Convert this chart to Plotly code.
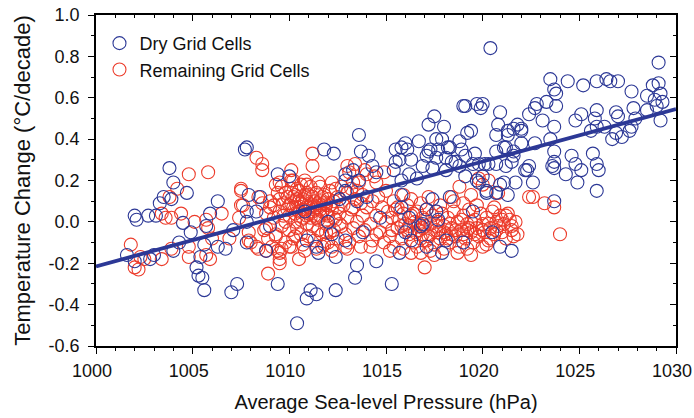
import plotly.graph_objects as go

# ---- Data ----
dry_points = [
    (1003.8,0.26),(1004.0,0.19),(1004.7,0.14),(1003.5,0.12),(1003.3,0.09),(1002.0,0.03),(1002.1,0.01),
    (1002.7,0.03),(1003.1,0.03),(1003.9,0.11),(1004.5,-0.005),(1004.9,-0.05),(1004.3,-0.10),(1006.3,0.10),
    (1005.9,0.04),(1005.7,-0.02),(1005.6,-0.11),(1005.4,-0.17),(1005.2,-0.22),(1005.3,-0.26),(1005.5,-0.27),
    (1005.6,-0.33),(1001.6,-0.16),(1002.0,-0.19),(1002.8,-0.18),(1003.0,-0.16),(1004.0,-0.14),(1006.3,-0.12),
    (1006.7,-0.13),(1007.0,-0.34),(1007.1,-0.04),(1007.3,-0.30),(1009.4,-0.30),(1009.4,0.23),(1007.8,0.36),
    (1007.7,0.35),(1007.9,0.13),(1008.5,0.12),(1007.8,0.05),(1008.3,0.05),(1007.8,0.0),(1008.8,-0.14),
    (1007.8,-0.10),(1010.4,-0.49),(1010.9,-0.37),(1011.1,-0.33),(1011.4,-0.35),(1012.4,-0.33),(1013.4,-0.27),
    (1013.5,-0.21),(1012.4,-0.17),(1011.5,-0.15),(1010.9,-0.09),(1011.8,0.35),(1012.3,0.33),(1013.7,0.34),
    (1014.1,0.32),(1014.3,0.27),(1012.9,0.23),(1013.6,0.20),(1014.5,0.24),(1012.6,0.11),
    (1019.0,0.56),(1019.7,0.57),(1017.5,0.51),(1017.2,0.47),(1018.0,0.46),(1019.2,0.43),(1013.6,0.42),
    (1016.0,0.38),(1016.7,0.39),(1017.6,0.40),(1017.9,0.40),(1018.8,0.39),(1015.5,0.35),(1016.1,0.35),
    (1017.3,0.35),(1017.7,0.35),(1018.3,0.36),(1018.9,0.35),(1019.6,0.33),(1015.7,0.30),(1016.3,0.30),
    (1017.1,0.32),(1017.6,0.31),(1018.1,0.31),(1018.4,0.29),(1018.8,0.27),(1016.9,0.27),(1017.4,0.26),
    (1018.1,0.25),(1019.1,0.22),(1015.4,0.25),(1016.2,0.23),(1016.6,0.21),(1015.8,0.20),(1013.3,0.25),
    (1012.9,0.20),(1012.9,0.15),(1010.0,0.22),(1015.8,0.13),(1015.8,0.07),(1016.2,0.02),(1017.1,0.06),
    (1017.4,0.11),(1017.7,0.01),(1016.8,-0.02),(1016.3,-0.09),(1015.7,-0.15),(1017.1,-0.12),(1017.9,-0.15),
    (1015.3,-0.30),(1011.4,-0.12),(1012.9,-0.09),(1019.7,0.20),(1019.8,0.19),(1020.2,0.15),(1020.7,0.14),
    (1021.1,0.19),(1021.7,0.19),(1021.2,0.36),(1021.6,0.32),(1022.0,0.38),(1022.2,0.25),(1021.5,0.29),
    (1020.3,0.28),(1019.8,0.28),(1018.3,0.12),(1017.6,0.05),(1014.5,-0.19),(1021.5,-0.14),(1018.1,-0.09),
    (1016.9,-0.01),
    (1020.4,0.84),(1029.1,0.77),(1023.5,0.69),(1024.4,0.68),(1025.2,0.66),(1025.9,0.68),(1026.4,0.69),
    (1026.6,0.68),(1027.0,0.68),(1027.7,0.63),(1028.8,0.66),(1029.1,0.67),(1029.2,0.62),(1028.5,0.61),
    (1028.9,0.59),(1029.3,0.58),(1029.0,0.56),(1028.5,0.54),(1029.2,0.49),(1027.8,0.55),(1026.9,0.53),
    (1027.0,0.51),(1027.9,0.50),(1027.7,0.46),(1027.6,0.44),(1027.2,0.41),(1026.7,0.40),(1026.9,0.43),
    (1026.3,0.46),(1025.9,0.46),(1025.6,0.44),(1025.9,0.54),(1025.8,0.50),(1024.8,0.49),(1025.1,0.52),
    (1023.7,0.64),(1023.8,0.62),(1023.3,0.58),(1023.8,0.56),(1022.8,0.57),(1022.4,0.52),(1023.1,0.49),
    (1023.7,0.46),(1023.5,0.40),(1023.7,0.34),(1023.7,0.29),(1023.6,0.27),(1023.7,0.26),(1024.6,0.32),
    (1024.8,0.28),(1024.3,0.23),(1025.1,0.25),(1025.7,0.33),(1025.9,0.28),(1026.0,0.25),(1024.9,0.19),
    (1025.9,0.15),(1023.7,0.10),(1022.6,0.19),(1022.3,0.25),(1021.2,0.27),(1020.7,0.28),(1020.1,0.28),
    (1020.0,0.22),(1019.4,0.44),(1020.0,0.57),(1019.9,0.55),(1020.9,0.53),(1020.8,0.47),(1021.3,0.44),
    (1021.8,0.47),(1022.0,0.44),(1021.1,0.36),(1022.7,0.38),(1020.9,0.18),(1021.3,0.13),(1020.2,0.14),
    (1019.1,0.56),(1020.7,0.42),(1021.3,0.42),(1021.6,0.45),(1022.0,0.45),(1021.6,0.34),(1020.7,0.34),
    (1022.4,0.27),(1015.8,0.36),(1015.5,0.29),(1017.2,0.34),(1018.2,0.36),(1018.6,0.29),(1019.1,0.32),
    (1019.5,0.28),(1022.7,0.55),
    (1009.0,-0.02),(1010.8,0.05),(1012.0,0.00),(1013.5,0.10),(1012.2,-0.06),(1014.0,0.12),(1014.7,0.02),
    (1013.8,-0.05),(1016.0,-0.05),(1019.0,-0.10),(1020.5,-0.05),(1019.5,0.05),(1020.9,-0.12),
]

remaining_points = [
    (1004.8,0.23),(1005.8,0.24),(1004.2,0.16),(1003.8,0.12),(1003.4,0.04),(1003.9,0.02),(1003.6,0.02),
    (1004.4,0.04),(1005.1,0.0),(1005.7,0.01),(1006.5,0.04),(1005.8,-0.03),(1006.0,-0.08),(1006.9,-0.08),
    (1004.8,-0.12),(1004.8,-0.17),(1003.9,-0.13),(1003.4,-0.18),(1001.8,-0.11),(1002.3,-0.17),(1002.5,-0.18),
    (1002.0,-0.22),(1002.2,-0.23),(1005.7,-0.16),(1005.9,-0.18),(1007.5,0.15),(1007.6,0.08),(1008.3,0.31),
    (1008.6,0.28),(1008.6,0.25),(1008.9,-0.25),(1009.5,-0.18),(1009.6,-0.13),(1007.9,-0.05),(1008.0,-0.10),
    (1008.4,-0.13),(1008.8,-0.14),(1008.8,-0.03),(1008.7,-0.04),(1009.3,-0.07),(1010.1,0.25),(1007.4,0.02),
    (1011.2,0.33),(1011.2,0.27),(1013.0,0.27),(1007.5,0.16),(1008.4,0.12),(1007.5,0.08),(1009.0,0.07),
    (1009.5,0.19),(1010.1,0.20),(1010.8,0.20),(1011.5,0.19),(1012.2,0.19),(1013.1,0.24),(1013.3,0.19),
    (1014.0,0.23),(1014.5,0.19),(1009.5,-0.15),(1009.5,-0.20),(1010.5,-0.18),(1007.9,-0.09),(1008.3,-0.12),
    (1013.0,-0.13),(1013.7,-0.12),(1014.3,-0.09),(1010.0,-0.12),(1011.7,-0.12),(1012.2,-0.12),(1014.9,0.24),
    (1014.4,0.22),(1019.8,0.21),(1020.3,0.20),(1020.8,0.14),(1022.4,0.12),(1018.8,0.17),(1019.4,0.13),
    (1018.4,0.12),(1021.4,0.01),(1021.5,-0.02),(1021.6,-0.07),(1021.0,0.01),(1020.7,0.0),(1021.2,0.03),
    (1017.0,-0.22),(1017.5,-0.16),(1019.4,-0.16),(1020.0,-0.12),(1020.2,-0.11),(1016.8,-0.15),(1016.3,-0.15),
    (1020.0,0.18),(1022.6,0.12),(1023.2,0.09),(1023.7,0.07),(1024.0,-0.06),(1020.4,-0.08),(1013.4,0.28),
    (1013.9,0.25),
    # dense cloud 1
    (1009.0,0.10),(1009.2,0.02),(1009.3,-0.06),(1009.4,0.14),(1009.5,0.05),(1009.6,-0.02),(1009.7,0.09),
    (1009.8,-0.10),(1009.9,0.12),(1010.0,0.03),(1010.0,-0.04),(1010.1,0.16),(1010.2,0.07),(1010.2,-0.08),
    (1010.3,0.00),(1010.4,0.11),(1010.4,-0.03),(1010.5,0.05),(1010.5,0.15),(1010.6,-0.06),(1010.6,0.09),
    (1010.7,0.02),(1010.7,-0.11),(1010.8,0.13),(1010.8,0.06),(1010.9,-0.01),(1010.9,0.10),(1011.0,0.04),
    (1011.0,-0.07),(1011.1,0.17),(1011.1,0.08),(1011.2,-0.02),(1011.2,0.12),(1011.3,0.03),(1011.3,-0.09),
    (1011.4,0.07),(1011.4,0.14),(1011.5,-0.04),(1011.5,0.01),(1011.6,0.10),(1011.7,-0.06),(1011.7,0.05),
    (1011.8,0.13),(1011.9,-0.01),(1011.9,0.08),(1012.0,-0.10),(1012.0,0.03),(1012.1,0.15),(1012.2,0.06),
    (1012.3,-0.04),(1012.3,0.10),(1012.4,0.01),(1012.5,-0.08),(1012.5,0.12),(1012.6,0.04),(1012.7,-0.02),
    (1012.8,0.08),(1012.9,-0.06),(1013.0,0.14),(1013.0,0.02),(1013.1,-0.10),(1013.2,0.06),(1013.3,-0.03),
    (1013.4,0.11),(1013.5,0.00),(1013.6,-0.07),(1013.7,0.09),(1013.8,0.03),(1013.9,-0.04),(1014.0,0.07),
    (1009.1,-0.12),(1009.3,0.18),(1009.6,0.17),(1009.8,0.00),(1010.1,-0.12),(1010.3,0.13),(1010.6,0.18),
    (1010.9,0.18),(1011.2,0.05),(1011.6,0.17),(1011.8,-0.11),(1012.1,-0.05),(1012.4,0.16),(1012.7,0.17),
    (1013.2,0.16),(1013.5,0.15),(1013.8,0.13),(1014.2,-0.01),(1014.3,0.10),(1014.5,-0.06),(1008.8,0.04),
    (1008.6,0.09),(1008.9,-0.08),(1009.4,-0.14),(1010.2,0.20),(1010.8,-0.14),(1011.4,-0.13),(1012.2,-0.14),
    (1012.9,-0.12),(1013.6,0.19),(1010.4,0.07),(1010.9,0.03),(1011.3,0.10),(1011.0,0.13),(1010.7,0.11),
    (1011.6,0.03),(1010.3,-0.07),(1011.8,0.09),(1012.6,-0.01),(1013.3,0.07),
    (1009.2,0.08),(1009.5,0.11),(1009.7,0.03),(1009.9,0.06),(1010.1,0.09),(1010.3,0.04),(1010.5,0.10),
    (1010.6,0.01),(1010.8,0.09),(1011.0,0.07),(1011.1,0.02),(1011.3,0.06),(1011.5,0.09),(1011.7,0.12),
    (1011.9,0.04),(1012.1,0.08),(1012.3,0.02),(1012.5,0.07),(1010.2,0.12),(1010.9,0.14),(1011.6,0.06),
    (1010.0,0.08),(1010.7,0.06),(1011.4,0.02),(1012.0,0.11),(1009.8,0.14),(1010.4,0.16),(1011.9,-0.05),
    # dense cloud 2
    (1014.5,0.03),(1014.7,-0.05),(1014.8,0.07),(1014.9,-0.10),(1015.0,0.00),(1015.1,0.05),(1015.2,-0.07),
    (1015.3,0.02),(1015.4,-0.12),(1015.5,0.06),(1015.6,-0.03),(1015.7,0.01),(1015.8,-0.08),(1015.9,0.04),
    (1016.0,-0.01),(1016.1,0.08),(1016.2,-0.06),(1016.3,0.03),(1016.4,-0.10),(1016.5,0.00),(1016.6,0.05),
    (1016.7,-0.04),(1016.8,-0.08),(1016.9,0.02),(1017.0,-0.02),(1017.1,0.06),(1017.2,-0.07),(1017.3,-0.01),
    (1017.4,0.03),(1017.5,-0.11),(1017.6,-0.04),(1017.7,0.00),(1017.8,-0.08),(1017.9,0.04),(1018.0,-0.02),
    (1018.1,-0.06),(1018.2,0.02),(1018.3,-0.10),(1018.4,-0.03),(1018.5,0.05),(1018.6,-0.07),(1018.7,0.00),
    (1018.8,-0.12),(1018.9,-0.04),(1019.0,0.03),(1019.1,-0.08),(1019.2,-0.01),(1019.3,0.06),(1019.4,-0.05),
    (1019.5,-0.10),(1019.6,0.01),(1019.7,-0.03),(1019.8,-0.07),(1019.9,0.04),(1020.0,-0.01),(1020.1,-0.05),
    (1020.2,0.02),(1020.4,-0.03),(1020.5,0.05),(1020.6,-0.06),(1020.8,-0.02),(1020.9,0.03),(1021.0,-0.05),
    (1021.1,-0.01),(1021.3,0.04),(1021.5,-0.04),(1021.7,0.00),(1021.8,-0.06),(1014.6,0.12),(1015.0,0.15),
    (1015.4,0.10),(1015.9,0.13),(1016.3,0.11),(1016.8,0.09),(1017.2,0.12),(1017.8,0.08),(1018.5,0.10),
    (1019.0,0.09),(1019.7,0.08),(1015.2,-0.14),(1015.9,-0.13),(1016.6,-0.12),(1017.3,-0.14),(1018.0,-0.13),
    (1018.7,-0.15),(1019.2,-0.13),(1016.1,-0.04),(1016.9,-0.06),(1017.7,-0.05),(1018.4,-0.06),(1019.4,0.00),
    (1016.4,0.04),(1017.0,0.01),(1018.9,0.01),(1020.3,-0.09),(1015.6,0.07),(1017.6,0.05),(1020.6,0.07),
    (1021.2,-0.08),(1014.2,-0.12),
    (1015.3,-0.04),(1015.8,-0.02),(1016.2,-0.02),(1016.5,-0.05),(1016.9,-0.03),(1017.3,-0.06),(1017.6,-0.02),
    (1018.0,-0.05),(1018.3,-0.01),(1018.6,-0.04),(1019.0,-0.06),(1019.3,-0.03),(1019.6,-0.06),(1020.0,-0.04),
    (1020.3,-0.01),(1020.7,-0.04),(1017.1,-0.09),(1018.2,-0.08),(1019.2,-0.04),(1016.7,-0.01),
]

fit_pressure = [1000, 1030]
fit_change = [-0.215, 0.545]

x_ticks = [1000, 1005, 1010, 1015, 1020, 1025, 1030]
x_tick_labels = ["1000", "1005", "1010", "1015", "1020", "1025", "1030"]
y_ticks = [-0.6, -0.4, -0.2, 0.0, 0.2, 0.4, 0.6, 0.8, 1.0]
y_tick_labels = ["-0.6", "-0.4", "-0.2", "0.0", "0.2", "0.4", "0.6", "0.8", "1.0"]

dry_p = [p for p, _ in dry_points]
dry_t = [t for _, t in dry_points]
rem_p = [p for p, _ in remaining_points]
rem_t = [t for _, t in remaining_points]

BLUE = "#2c3896"
RED = "#ec3b2a"
FONT = "Liberation Sans, Arial, sans-serif"

fig = go.Figure()
fig.add_trace(go.Scatter(
    x=rem_p, y=rem_t, mode="markers", name="Remaining Grid Cells", showlegend=False,
    marker=dict(symbol="circle-open", size=13, color=RED, line=dict(width=1.1, color=RED)),
))
fig.add_trace(go.Scatter(
    x=dry_p, y=dry_t, mode="markers", name="Dry Grid Cells",
    marker=dict(symbol="circle-open", size=13, color=BLUE, line=dict(width=1.1, color=BLUE)),
))
fig.add_trace(go.Scatter(
    x=[None], y=[None], mode="markers", name="Remaining Grid Cells",
    marker=dict(symbol="circle-open", size=13, color=RED, line=dict(width=1.1, color=RED)),
))
fig.add_trace(go.Scatter(
    x=fit_pressure, y=fit_change, mode="lines", showlegend=False,
    line=dict(color=BLUE, width=3.8),
))
fig.add_trace(go.Scatter(x=[None], y=[None], xaxis="x2", yaxis="y2", showlegend=False, hoverinfo="skip"))

fig.update_layout(
    width=694, height=418,
    margin=dict(l=96, r=18, t=15, b=72),
    paper_bgcolor="white", plot_bgcolor="white",
    font=dict(family=FONT, size=18, color="#111"),
    showlegend=True,
    legend=dict(x=0.006, y=0.97, xanchor="left", yanchor="top", bgcolor="rgba(0,0,0,0)",
                font=dict(size=18, family=FONT), tracegroupgap=0, itemsizing="trace"),
    xaxis=dict(
        range=[1000, 1030], tickvals=x_ticks, ticktext=x_tick_labels, automargin=False,
        showgrid=False, zeroline=False, showline=True, linecolor="black", linewidth=1.5,
        ticks="outside", ticklen=6, tickwidth=1, tickcolor="black", ticklabelstandoff=2,
        ticklabelshift=-4, ticklabeloverflow="allow",
        minor=dict(dtick=1, ticks="outside", ticklen=3, tickcolor="black", showgrid=False),
        title=dict(text="Average Sea-level Pressure (hPa)", font=dict(size=20), standoff=15),
        tickfont=dict(size=18),
    ),
    yaxis=dict(
        range=[-0.6, 1.0], tickvals=y_ticks, ticktext=y_tick_labels, automargin=False,
        showgrid=False, zeroline=False, showline=True, linecolor="black", linewidth=1.5,
        ticks="outside", ticklen=6, tickwidth=1, tickcolor="black", ticklabelstandoff=5,
        ticklabeloverflow="allow",
        minor=dict(dtick=0.1, ticks="outside", ticklen=3, tickcolor="black", showgrid=False),
        title=dict(text="Temperature Change (°C/decade)", font=dict(size=22), standoff=12),
        tickfont=dict(size=18),
    ),
    xaxis2=dict(
        overlaying="x", side="top", range=[1000, 1030], tickvals=x_ticks,
        showticklabels=False, showgrid=False, zeroline=False, showline=True,
        linecolor="black", linewidth=1.5, ticks="inside", ticklen=6, tickcolor="black",
        minor=dict(dtick=1, ticks="inside", ticklen=3, tickcolor="black", showgrid=False),
    ),
    yaxis2=dict(
        overlaying="y", side="right", range=[-0.6, 1.0], tickvals=y_ticks,
        showticklabels=False, showgrid=False, zeroline=False, showline=True,
        linecolor="black", linewidth=1.5, ticks="inside", ticklen=6, tickcolor="black",
        minor=dict(dtick=0.1, ticks="inside", ticklen=3, tickcolor="black", showgrid=False),
    ),
)

fig.write_html(
    "out.html",
    config={"displayModeBar": False},
    post_script="document.body.style.margin='0';document.body.style.padding='0';",
)
